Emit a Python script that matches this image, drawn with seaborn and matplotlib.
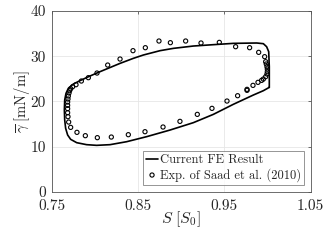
import matplotlib
matplotlib.use("Agg")
import matplotlib.pyplot as plt
import seaborn as sns
import pandas as pd

fe_s = [1.0021, 1.0021, 1.0014, 0.9990, 0.9952, 0.9875, 0.9604, 0.9373, 0.9141, 0.8909,
        0.8755, 0.8562, 0.8446, 0.8292, 0.8060, 0.7944, 0.7828, 0.7751, 0.7693, 0.7666,
        0.7651, 0.7647, 0.7651, 0.7662, 0.7685, 0.7720, 0.7790, 0.7905, 0.8021, 0.8176,
        0.8369, 0.8600, 0.8871, 0.9141, 0.9373, 0.9604, 0.9836, 0.9952, 1.0021]
fe_gamma = [23.10, 27.68, 31.00, 32.10, 32.77, 32.92, 32.84, 32.55, 32.25, 31.73,
            31.22, 30.26, 29.52, 28.41, 26.57, 25.61, 24.58, 23.84, 22.88, 21.77,
            20.30, 18.08, 15.87, 14.02, 12.55, 11.59, 10.85, 10.41, 10.26, 10.41,
            11.07, 12.18, 13.65, 15.28, 17.12, 19.34, 21.40, 22.36, 23.10]

exp_s = [0.8149, 0.8292, 0.8442, 0.8585, 0.8743, 0.8875, 0.9052, 0.9230, 0.9442, 0.9631,
         0.9793, 0.9898, 0.9967, 0.9979, 0.9986, 0.9994, 0.9998, 0.9998, 0.9994, 0.9979,
         0.9952, 0.9932, 0.9890, 0.9832, 0.9763, 0.9763, 0.9654, 0.9531, 0.9357, 0.9187,
         0.8986, 0.8790, 0.8581, 0.8388, 0.8191, 0.8029, 0.7890, 0.7793, 0.7720, 0.7697,
         0.7689, 0.7685, 0.7685, 0.7685, 0.7685, 0.7689, 0.7693, 0.7701, 0.7708, 0.7720,
         0.7743, 0.7782, 0.7844, 0.7925, 0.8025]
exp_gamma = [28.04, 29.37, 31.22, 31.88, 33.36, 32.99, 33.36, 32.92, 33.06, 32.10,
             31.88, 30.85, 29.89, 28.78, 28.27, 27.68, 27.16, 26.57, 26.05, 25.46,
             24.94, 24.65, 24.21, 23.54, 22.66, 22.44, 21.25, 20.07, 18.45, 17.12,
             15.57, 14.32, 13.28, 12.62, 12.10, 11.96, 12.40, 13.14, 14.24, 15.42,
             16.61, 17.49, 18.38, 19.12, 19.85, 20.52, 21.18, 21.85, 22.36, 22.80,
             23.25, 23.69, 24.50, 25.24, 26.27]

x_ticks = [0.75, 0.85, 0.95, 1.05]
y_ticks = [0, 10, 20, 30, 40]

sns.set_style("white")
plt.rcParams['font.family'] = ['serif']
plt.rcParams['font.serif'] = ['cmr10', 'DejaVu Serif']
plt.rcParams['mathtext.fontset'] = 'cm'
plt.rcParams['axes.unicode_minus'] = False
plt.rcParams['axes.formatter.use_mathtext'] = True

fig = plt.figure(figsize=(3.27, 2.45), dpi=100)
ax = fig.add_axes([0.158, 0.2176, 0.792, 0.7374])

fe = pd.DataFrame({"S": fe_s, "gamma": fe_gamma})
ex = pd.DataFrame({"S": exp_s, "gamma": exp_gamma})

sns.lineplot(data=fe, x="S", y="gamma", sort=False, estimator=None, color="black",
             linewidth=1.2, ax=ax, label="Current FE Result")
sns.scatterplot(data=ex, x="S", y="gamma", ax=ax, marker="o", s=9,
                facecolor="none", edgecolor="black", linewidth=0.8,
                label="Exp. of Saad et al. (2010)")

ax.set_xlim(0.75, 1.05)
ax.set_ylim(0, 40)
ax.set_xticks(x_ticks)
ax.set_xticklabels([f"{v:.2f}" for v in x_ticks])
ax.set_yticks(y_ticks)
ax.set_yticklabels([str(v) for v in y_ticks])
ax.grid(True, color="#e6e6e6", linewidth=0.6)
ax.tick_params(direction="in", length=2.5, width=0.6, labelsize=11,
               top=True, right=True, color="#555555")
ax.tick_params(axis="x", pad=5.5)
ax.tick_params(axis="y", pad=4)
for lbl in ax.get_yticklabels():
    lbl.set_verticalalignment("center_baseline")
for sp in ax.spines.values():
    sp.set_linewidth(0.6)
    sp.set_color("#555555")
ax.set_xlabel(r"$S\ [S_0]$", fontsize=11.5, labelpad=-2.5)
ax.set_ylabel(r"$\overline{\gamma}\ [\mathrm{mN/m}]$", fontsize=10.5, labelpad=-1)

leg = ax.legend(loc="lower right", fontsize=9, frameon=True, fancybox=False,
                edgecolor="#666666", handlelength=1.0, handletextpad=0.1,
                borderpad=0.25, labelspacing=0.15, borderaxespad=0.55)
leg.get_frame().set_linewidth(0.6)

fig.savefig("out.png", dpi=100)
